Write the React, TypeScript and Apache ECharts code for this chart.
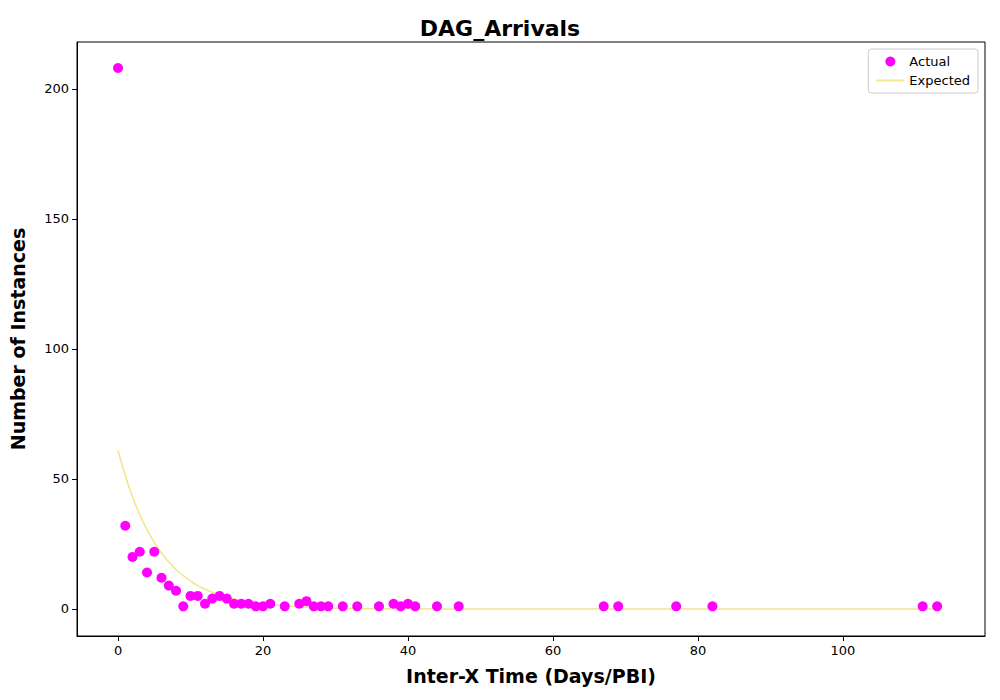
import { useEffect, useRef } from "react";
import * as echarts from "echarts";

const actualX = [0, 1, 2, 3, 4, 5, 6, 7, 8, 9, 10, 11, 12, 13, 14, 15, 16, 17, 18, 19, 20, 21, 23, 25, 26, 27, 28, 29, 31, 33, 36, 38, 39, 40, 41, 44, 47, 67, 69, 77, 82, 111, 113];
const actualY = [208, 32, 20, 22, 14, 22, 12, 9, 7, 1, 5, 5, 2, 4, 5, 4, 2, 2, 2, 1, 1, 2, 1, 2, 3, 1, 1, 1, 1, 1, 1, 2, 1, 2, 1, 1, 1, 1, 1, 1, 1, 1, 1];
const expectedX = [0, 1, 2, 3, 4, 5, 6, 7, 8, 9, 10, 11, 12, 13, 14, 15, 16, 17, 18, 19, 20, 22, 24, 26, 28, 30, 35, 40, 50, 113];
const expectedY = [61, 51.3, 43.1, 36.2, 30.5, 25.6, 21.5, 18.1, 15.2, 12.8, 10.8, 9.0, 7.6, 6.4, 5.4, 4.5, 3.8, 3.2, 2.7, 2.3, 1.9, 1.4, 1.0, 0.7, 0.5, 0.3, 0.1, 0.07, 0, 0];
const xTicks = [0, 20, 40, 60, 80, 100];
const yTicks = [0, 50, 100, 150, 200];

export default function App() {
  const ref = useRef<HTMLDivElement>(null);
  useEffect(() => {
    if (!ref.current) return;
    const chart = echarts.init(ref.current, undefined, { renderer: "svg" });
    const font = "DejaVu Sans";
    chart.setOption({
      animation: false,
      textStyle: { fontFamily: font },
      title: {
        text: "DAG_Arrivals",
        left: "center",
        top: 12,
        textStyle: { fontSize: 22, fontWeight: "bold", color: "#000", fontFamily: font },
      },
      legend: {
        right: 22,
        top: 49,
        orient: "vertical",
        itemGap: 6,
        padding: [6, 8],
        borderColor: "#ccc",
        borderWidth: 1,
        borderRadius: 3,
        textStyle: { fontSize: 13, color: "#000" },
        data: [
          { name: "Actual", icon: "circle", itemStyle: { color: "#ff00ff" } },
          { name: "Expected", icon: "path://M0,0L30,0L30,2L0,2Z", itemStyle: { color: "#f0e68c" } },
        ],
        itemWidth: 28,
        itemHeight: 10,
      },
      grid: { left: 77, right: 15, top: 42, bottom: 64, show: true, borderColor: "#000", borderWidth: 1 },
      xAxis: {
        type: "value",
        min: -5.66,
        max: 119.6,
        name: "Inter-X Time (Days/PBI)",
        nameLocation: "middle",
        nameGap: 30,
        nameTextStyle: { fontSize: 19, fontWeight: "bold", color: "#000" },
        splitLine: { show: false },
        axisLine: { onZero: false, lineStyle: { color: "#000" } },
        axisTick: { customValues: xTicks, length: 5, lineStyle: { color: "#000" } },
        axisLabel: { customValues: xTicks, fontSize: 13, color: "#000", margin: 8 },
      },
      yAxis: {
        type: "value",
        min: -10.4,
        max: 218,
        name: "Number of Instances",
        nameLocation: "middle",
        nameGap: 50,
        nameTextStyle: { fontSize: 19, fontWeight: "bold", color: "#000" },
        splitLine: { show: false },
        axisLine: { show: true, onZero: false, lineStyle: { color: "#000" } },
        axisTick: { show: true, customValues: yTicks, length: 5, lineStyle: { color: "#000" } },
        axisLabel: { customValues: yTicks, fontSize: 13, color: "#000", margin: 8 },
      },
      series: [
        {
          name: "Actual",
          type: "scatter",
          symbolSize: 10,
          itemStyle: { color: "#ff00ff", opacity: 1 },
          data: actualX.map((x, i) => [x, actualY[i]]),
          z: 3,
        },
        {
          name: "Expected",
          type: "line",
          showSymbol: false,
          smooth: true,
          lineStyle: { color: "#f0e68c", width: 1.5 },
          itemStyle: { color: "#f0e68c" },
          data: expectedX.map((x, i) => [x, expectedY[i]]),
          z: 2,
        },
      ],
    });
    return () => chart.dispose();
  }, []);
  return <div ref={ref} style={{ width: 1000, height: 700, margin: -8 }} />;
}
